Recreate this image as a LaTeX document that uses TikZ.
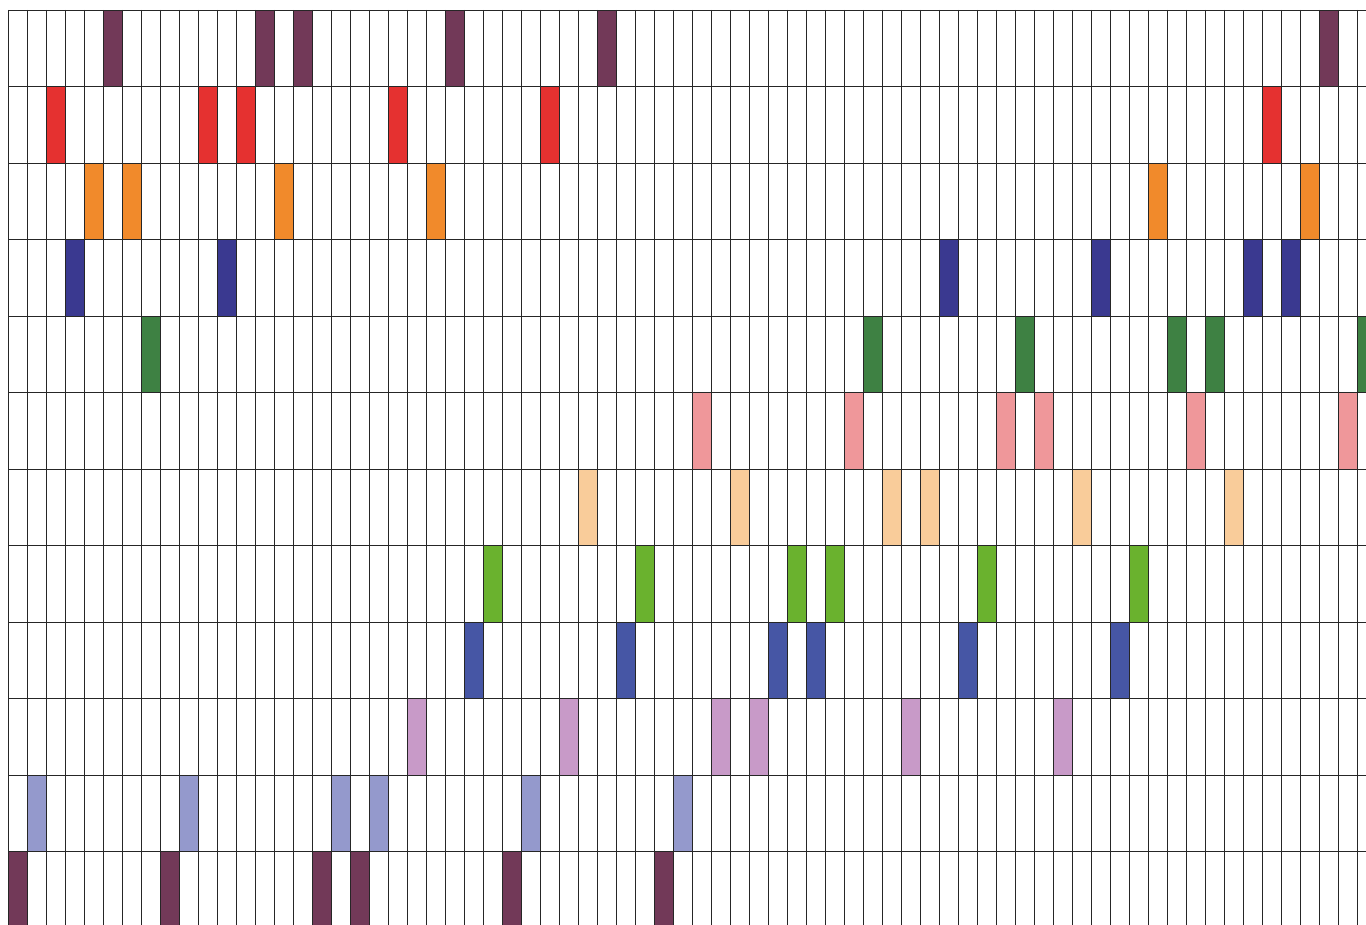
\documentclass[tikz,border=0pt]{standalone}
\definecolor{cPurple}{RGB}{114,57,88}
\definecolor{cRed}{RGB}{229,49,48}
\definecolor{cOrange}{RGB}{241,138,43}
\definecolor{cNavy}{RGB}{58,57,144}
\definecolor{cDkGreen}{RGB}{62,129,67}
\definecolor{cPink}{RGB}{239,151,154}
\definecolor{cPeach}{RGB}{249,204,154}
\definecolor{cGreen}{RGB}{106,178,46}
\definecolor{cBlue}{RGB}{70,86,165}
\definecolor{cLilac}{RGB}{200,154,200}
\definecolor{cPeri}{RGB}{148,153,204}
\begin{document}
\begin{tikzpicture}[x=1pt,y=-1pt,
  gridline/.style={draw=black!85,line width=0.9pt},
  cellfill/.style={line width=0.9pt,draw=black!80}]
\useasboundingbox (0,0) rectangle (1366,925);
\clip (0,0) rectangle (1366,925);
\def\xo{8.7}\def\yo{10}\def\cw{19}\def\rh{76.5}
% coloured cells: row / offset / colour
\foreach \r/\o/\c in {0/69/cPurple,1/66/cRed,2/60/cOrange,3/49/cNavy,4/45/cDkGreen,5/36/cPink,6/30/cPeach,7/25/cGreen,8/24/cBlue,9/21/cLilac,10/1/cPeri,11/0/cPurple}{
  \foreach \k in {0,8,16,18,26,34}{
    \pgfmathtruncatemacro{\col}{mod(\o+\k,72)}
    \fill[\c] ({\xo+\col*\cw},{\yo+\r*\rh}) rectangle ({\xo+(\col+1)*\cw},{\yo+(\r+1)*\rh});
  }
}
% grid lines
\foreach \i in {0,...,72}{
  \draw[gridline] ({\xo+\i*\cw},\yo) -- ({\xo+\i*\cw},{\yo+12*\rh});
}
\foreach \j in {0,...,12}{
  \draw[gridline] (\xo,{\yo+\j*\rh}) -- ({\xo+72*\cw},{\yo+\j*\rh});
}
\end{tikzpicture}
\end{document}
